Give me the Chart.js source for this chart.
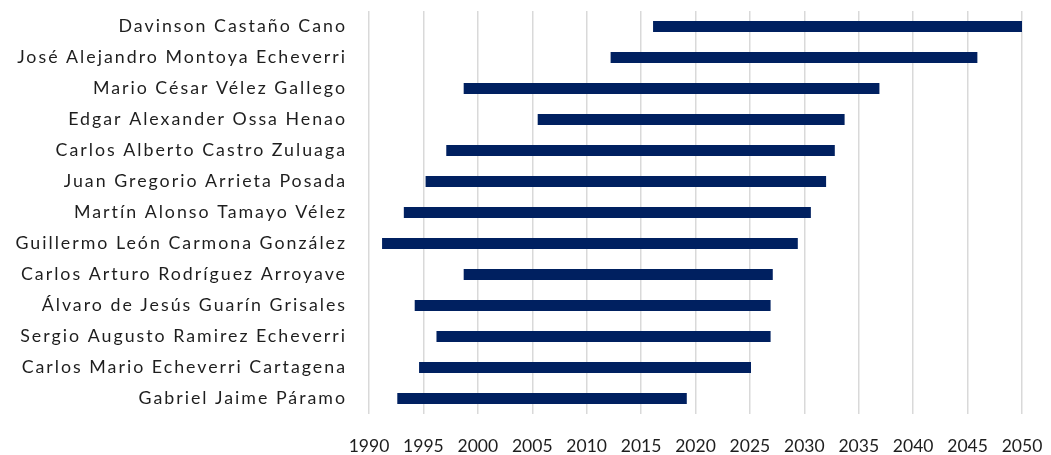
<!DOCTYPE html>
<html>
<head>
<meta charset="utf-8">
<script src="https://cdn.jsdelivr.net/npm/chart.js@4/dist/chart.umd.min.js"></script>
<style>
  html, body { margin: 0; padding: 0; background: #fff; }
  #wrap { width: 1051px; height: 455px; }
</style>
</head>
<body>
<div id="wrap"><canvas id="chart"></canvas></div>
<script>
// names top to bottom
const names = [
  'Davinson Castaño Cano',
  'José Alejandro Montoya Echeverri',
  'Mario César Vélez Gallego',
  'Edgar Alexander Ossa Henao',
  'Carlos Alberto Castro Zuluaga',
  'Juan Gregorio Arrieta Posada',
  'Martín Alonso Tamayo Vélez',
  'Guillermo León Carmona González',
  'Carlos Arturo Rodríguez Arroyave',
  'Álvaro de Jesús Guarín Grisales',
  'Sergio Augusto Ramirez Echeverri',
  'Carlos Mario Echeverri Cartagena',
  'Gabriel Jaime Páramo'
];
const startYears = [2016.1, 2012.2, 1998.7, 2005.5, 1997.1, 1995.2, 1993.2, 1991.2, 1998.7, 1994.2, 1996.2, 1994.6, 1992.6];
const endYears   = [2050.2, 2045.9, 2036.9, 2033.7, 2032.8, 2032.0, 2030.6, 2029.4, 2027.1, 2026.9, 2026.9, 2025.1, 2019.2];
const yearMin = 1990;
const yearMax = 2050;
const yearStep = 5;

const ranges = names.map((n, i) => [startYears[i], endYears[i]]);

// the name labels are drawn after the bars (z: 1), so switch letter spacing on there
const spacing = {
  id: 'spacing',
  beforeDraw(chart) { chart.ctx.letterSpacing = '0px'; },
  afterDatasetsDraw(chart) { chart.ctx.letterSpacing = '2px'; },
  afterDraw(chart) { chart.ctx.letterSpacing = '0px'; }
};

new Chart(document.getElementById('chart'), {
  type: 'bar',
  data: {
    labels: names,
    datasets: [{
      data: ranges,
      backgroundColor: '#002060',
      borderWidth: 0,
      barPercentage: 0.36,
      categoryPercentage: 1
    }]
  },
  options: {
    indexAxis: 'y',
    responsive: true,
    maintainAspectRatio: false,
    animation: false,
    layout: { padding: { top: 11, right: 29, bottom: 0, left: 0 } },
    plugins: { legend: { display: false }, tooltip: { enabled: false } },
    scales: {
      x: {
        min: yearMin,
        max: yearMax,
        ticks: {
          stepSize: yearStep,
          autoSkip: false,
          maxRotation: 0,
          padding: 22,
          z: 0,
          color: '#1e1e1e',
          font: { family: 'Lato', size: 17.5 },
          callback: (v) => String(v)
        },
        grid: { color: '#d9d9d9', lineWidth: 1.5, drawTicks: false },
        border: { display: false },
        afterFit: (scale) => {
          scale.height = 41;
          scale.paddingLeft = 0;
          scale.paddingRight = 0;
        }
      },
      y: {
        ticks: {
          padding: 22,
          z: 1,
          color: '#1e1e1e',
          font: { family: 'Lato', size: 17.8 }
        },
        grid: { display: false, drawTicks: false },
        border: { display: false },
        afterFit: (scale) => {
          scale.width = 369;
          scale.paddingTop = 0;
          scale.paddingBottom = 0;
        }
      }
    }
  },
  plugins: [spacing]
});
</script>
</body>
</html>
